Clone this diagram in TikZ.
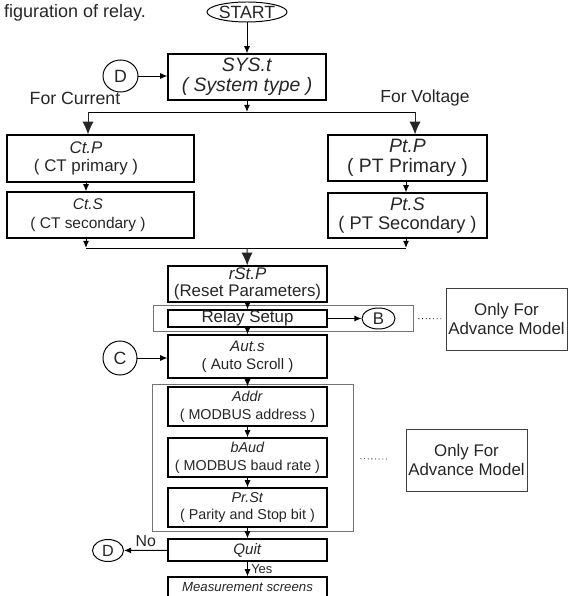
\documentclass[tikz,border=0pt]{standalone}
\usepackage{fontspec}
\setmainfont{Liberation Sans}
\usetikzlibrary{shapes.geometric, arrows.meta}
\tikzstyle{startstop} = [ellipse, draw=black, line width=0.7pt, inner sep=0pt, minimum width=2cm, minimum height=0.5cm]
\tikzstyle{connector} = [ellipse, draw=black, line width=0.7pt, inner sep=0pt]
\tikzstyle{process} = [rectangle, draw=black, line width=0.8pt, inner sep=0pt, minimum width=3.975cm, text centered]
\tikzstyle{group} = [rectangle, draw=black!55, line width=0.6pt, inner sep=0pt]
\tikzstyle{note} = [rectangle, draw=black!75, line width=0.6pt, inner sep=0pt, minimum width=3.025cm, minimum height=1.55cm, text centered]
\tikzstyle{label} = [font=\fontsize{9.2}{10}\selectfont]
\tikzstyle{arrow} = [line width=0.7pt, -{Latex[length=0.18cm, width=0.15cm]}]
\tikzstyle{bigarrow} = [line width=0.7pt, -{Latex[length=0.32cm, width=0.28cm]}, draw=black!85]
\tikzstyle{dots} = [line width=0.6pt, dotted]

\begin{document}
\begin{tikzpicture}[x=0.025cm, y=-0.025cm, font=\fontsize{12}{13}\selectfont, text=black!85]
        \useasboundingbox (0,0) rectangle (568,596);

        \node (title) [align=center, font=\fontsize{12.8}{14}\selectfont] at (75,13) {figuration of relay.};
        \node (start) [startstop, align=center, font=\fontsize{12.6}{14}\selectfont] at (247,12) {START};
        \node (sys) [process, minimum width=3.95cm, minimum height=1.15cm, align=center,
        font=\fontsize{13.8}{14.5}\selectfont] at (247,77)
        {\textit{SYS.t}\\ \textit{( System type )}};
        \node (d1) [connector, minimum width=0.875cm, minimum height=0.8cm, font=\fontsize{12.6}{14}\selectfont] at (120.5,76) {D};
        \node (current) [align=center, font=\fontsize{12.6}{14}\selectfont] at (75,98) {For Current};
        \node (voltage) [align=center, font=\fontsize{12.4}{14}\selectfont] at (425,98) {For Voltage};

        \node (ctp) [process, minimum width=4.675cm, minimum height=1.175cm] at (100.5,158.5) {};
        \node (ctptext) [align=center] at (86,158.5) {\textit{Ct.P}\\ ( CT primary )};
        \node (cts) [process, minimum width=4.675cm, minimum height=1.15cm] at (100.5,215) {};
        \node (ctstext) [align=center, font=\fontsize{11}{13.2}\selectfont] at (88,215)
        {\textit{Ct.S}\\ ( CT secondary )};
        \node (ptp) [process, minimum height=1.15cm, align=center,
        font=\fontsize{13.8}{14}\selectfont] at (407.5,158)
        {\textit{Pt.P}\\ ( PT Primary )};
        \node (pts) [process, minimum height=1.125cm, align=center,
        font=\fontsize{13}{14}\selectfont] at (407.5,215.5)
        {\textit{Pt.S}\\ ( PT Secondary )};

        \node (rstp) [process, minimum height=0.9cm, align=center,
        font=\fontsize{12}{12}\selectfont] at (247.5,284)
        {\textit{rSt.P}\\ (Reset Parameters)};
        \node (relayout) [group, minimum width=6.5cm, minimum height=0.65cm] at (283,318) {};
        \node (relay) [process, minimum height=0.425cm, align=center] at (247.5,318.5) {Relay Setup};
        \node (b) [connector, minimum width=0.825cm, minimum height=0.525cm] at (378.5,318.5) {B};
        \node (adv1) [note, align=center] at (506.5,319) {Only For\\ Advance Model};

        \node (auts) [process, minimum height=1.075cm, align=center,
        font=\fontsize{10.8}{13}\selectfont] at (247.5,356.5)
        {\textit{Aut.s}\\ ( Auto Scroll )};
        \node (c) [connector, minimum width=0.85cm, minimum height=0.85cm, font=\fontsize{12.6}{14}\selectfont] at (120,358) {C};

        \node (outer2) [group, minimum width=5.025cm, minimum height=3.675cm] at (252.5,457.5) {};
        \node (addr) [process, minimum height=0.975cm, align=center,
        font=\fontsize{10.2}{12.6}\selectfont] at (247.5,406.5)
        {\textit{Addr}\\ ( MODBUS address )};
        \node (baud) [process, minimum height=0.975cm, align=center,
        font=\fontsize{10.2}{12.6}\selectfont] at (247.5,457.5)
        {\textit{bAud}\\ ( MODBUS baud rate )};
        \node (prst) [process, minimum height=0.975cm, align=center,
        font=\fontsize{10.2}{12.6}\selectfont] at (247.5,507.5)
        {\textit{Pr.St}\\ ( Parity and Stop bit )};
        \node (adv2) [note, align=center] at (466.5,460) {Only For\\ Advance Model};

        \node (quit) [process, minimum height=0.55cm, align=center, font=\fontsize{10.8}{12}\selectfont] at (247.5,550) {\textit{Quit}};
        \node (d2) [connector, minimum width=0.775cm, minimum height=0.55cm, font=\fontsize{11.5}{12}\selectfont] at (108,550.5) {D};
        \node (meas) [process, minimum height=0.5cm, align=center, font=\fontsize{9.4}{10}\selectfont] at (247.5,587)
        {\textit{Measurement screens}};

        \coordinate (split) at (247,112);
        \coordinate (splitL) at (88,112);
        \coordinate (splitR) at (415,112);
        \coordinate (join) at (247,248);
        \coordinate (joinL) at (86,248);
        \coordinate (joinR) at (406,248);

        \draw [arrow] (start) -- (sys);
        \draw [arrow] (d1.east) -- (d1.east -| sys.west);
        \draw [arrow] (sys) -- (split);
        \draw [line width=0.7pt] (splitL) -- (splitR);
        \draw [bigarrow] (splitL) -- (splitL |- ctp.north);
        \draw [bigarrow] (splitR) -- (splitR |- ptp.north);
        \draw [arrow] (joinL |- ctp.south) -- (joinL |- cts.north);
        \draw [arrow] (joinL |- cts.south) -- (joinL);
        \draw [arrow] (joinR |- ptp.south) -- (joinR |- pts.north);
        \draw [arrow] (joinR |- pts.south) -- (joinR);
        \draw [line width=0.7pt] (joinL) -- (joinR);
        \draw [bigarrow] (join) -- (rstp);
        \draw [arrow] (rstp) -- (relay);
        \draw [arrow] (relay) -- (b);
        \draw [dots, shorten <=0.125cm, shorten >=0.075cm] (relayout) -- (adv1);
        \draw [arrow] (relay) -- (auts);
        \draw [arrow] (c) -- (c -| auts.west);
        \draw [arrow] (auts) -- (addr);
        \draw [arrow] (addr) -- (baud);
        \draw [arrow] (baud) -- (prst);
        \draw [dots, shorten <=0.175cm, shorten >=0.45cm] (outer2) -- (adv2);
        \draw [arrow] (prst) -- (quit);
        \draw [arrow] (quit) -- node[above, font=\fontsize{11.3}{12}\selectfont, yshift=-1pt] {No} (d2);
        \draw [arrow] (quit) -- node[right, label, xshift=-1pt] {Yes} (meas);

    \end{tikzpicture}
\end{document}
